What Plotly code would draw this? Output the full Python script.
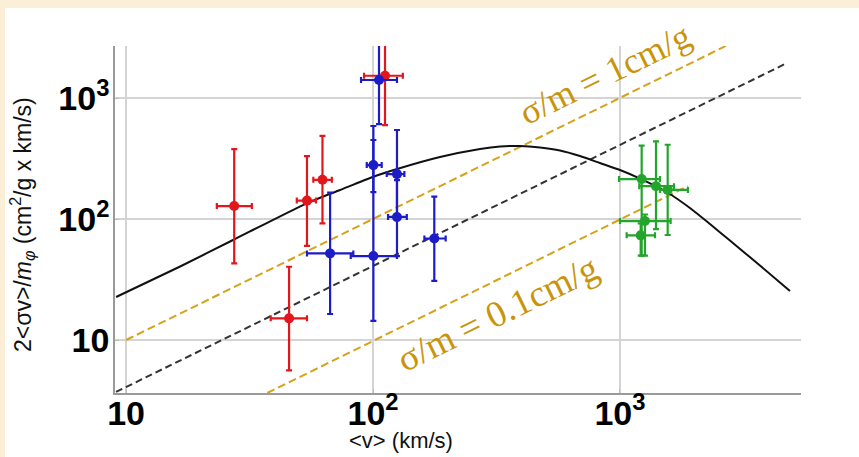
import plotly.graph_objects as go

# ---------------- data ----------------
# red points
red_v = [27.4, 54.0, 62.4, 45.7, 111.8]
red_v_lo = [23.3, 49.1, 57.3, 38.5, 92.0]
red_v_hi = [32.3, 58.7, 68.1, 54.0, 132.0]
red_y = [128, 142, 211, 15.1, 1528]
red_y_lo = [43, 60, 92, 5.6, 598]
red_y_hi = [378, 331, 486, 40.3, 3000]

# blue points
blue_v = [67.0, 100.3, 100.3, 125.0, 125.0, 177.0, 105.7]
blue_v_lo = [54.0, 81.2, 94.3, 113.6, 115.0, 161.4, 89.4]
blue_v_hi = [83.2, 125.0, 108.4, 133.9, 137.0, 196.8, 125.0]
blue_y = [52, 49.4, 279, 235, 104, 69, 1409]
blue_y_lo = [16.4, 14.4, 167, 98, 49.4, 30.8, 609]
blue_y_hi = [165, 587, 450, 544, 210, 153, 3000]

# green points
green_v = [1224, 1399, 1560, 1262, 1213]
green_v_lo = [991, 1197, 1452, 1000, 1064]
green_v_hi = [1452, 1655, 1884, 1603, 1386]
green_y = [214, 187, 174, 96.2, 73.3]
green_y_lo = [49.8, 82.6, 73.8, 49.8, 49.8]
green_y_hi = [404, 438, 411, 109, 92]

# model curve (solid black)
curve_v = [9.11, 16.55, 27.36, 53.9, 73.5, 100.3, 125.1, 186.7, 271.2, 326.8, 393.7,
           474.4, 571.6, 688.8, 829.9, 1000, 1224, 1545, 1920, 2314, 2788, 3688, 4878]
curve_y = [22.67, 40.5, 67.7, 134.8, 173.7, 223.7, 259, 325.4, 378.8, 397.3, 401.1,
           389.8, 368.3, 331.6, 290.3, 254.1, 212.9, 167.2, 123.3, 90.9, 66.4, 41.3, 25.4]

# constant sigma/m lines (end points)
gold_hi_v = [10, 2790]
gold_hi_y = [10, 2800]
black_dash_v = [9.1, 4742]
black_dash_y = [3.72, 1945]
gold_lo_v = [37.3, 1884]
gold_lo_y = [3.65, 187]

tick_vals = [10, 100, 1000]
tick_text = ["10", "10<sup>2</sup>", "10<sup>3</sup>"]

# ---------------- figure ----------------
RED = "#E3161C"
BLUE = "#1C1CC8"
GREEN = "#22A52A"
GOLD = "#D6A21A"
GOLD_TXT = "#C9940B"

fig = go.Figure()

fig.add_trace(go.Scatter(x=gold_hi_v, y=gold_hi_y, mode="lines",
                         line=dict(color=GOLD, width=2, dash="8px,4px"), hoverinfo="skip"))
fig.add_trace(go.Scatter(x=black_dash_v, y=black_dash_y, mode="lines",
                         line=dict(color="#333333", width=2, dash="7px,4px"), hoverinfo="skip"))
fig.add_trace(go.Scatter(x=gold_lo_v, y=gold_lo_y, mode="lines",
                         line=dict(color=GOLD, width=2, dash="8px,4px"), hoverinfo="skip"))
fig.add_trace(go.Scatter(x=curve_v, y=curve_y, mode="lines",
                         line=dict(color="#111111", width=2, shape="spline", smoothing=0.6),
                         hoverinfo="skip"))


def add_pts(v, vlo, vhi, y, ylo, yhi, color):
    fig.add_trace(go.Scatter(
        x=v, y=y, mode="markers",
        marker=dict(color=color, size=10),
        error_x=dict(type="data", symmetric=False,
                     array=[h - c for h, c in zip(vhi, v)],
                     arrayminus=[c - l for l, c in zip(vlo, v)],
                     color=color, thickness=2.2, width=3),
        error_y=dict(type="data", symmetric=False,
                     array=[h - c for h, c in zip(yhi, y)],
                     arrayminus=[c - l for l, c in zip(ylo, y)],
                     color=color, thickness=2.2, width=3),
    ))


add_pts(red_v, red_v_lo, red_v_hi, red_y, red_y_lo, red_y_hi, RED)
add_pts(blue_v, blue_v_lo, blue_v_hi, blue_y, blue_y_lo, blue_y_hi, BLUE)
add_pts(green_v, green_v_lo, green_v_hi, green_y, green_y_lo, green_y_hi, GREEN)

axis_common = dict(
    type="log", tickvals=tick_vals, ticktext=tick_text,
    tickfont=dict(family="Liberation Sans", size=34, color="#000000", weight="bold"),
    showgrid=True, gridcolor="#D4D4D4", gridwidth=1.5,
    showline=True, linecolor="#9A9A9A", linewidth=1.5,
    ticks="inside", ticklen=4, tickcolor="#BBBBBB",
    zeroline=False, automargin=False,
)

fig.update_xaxes(range=[0.955, 3.733], ticklabelstandoff=-11, **axis_common)
fig.update_yaxes(range=[0.562, 3.43], ticklabelstandoff=-3, **axis_common)

W, H = 859, 457
L, R, T, B = 115, 58, 46, 64
pw, ph = W - L - R, H - T - B


def px(x):
    return (x - L) / pw


def py(y):
    return (H - B - y) / ph


fig.update_layout(
    width=W, height=H,
    margin=dict(l=L, r=R, t=T, b=B),
    paper_bgcolor="white", plot_bgcolor="white",
    showlegend=False,
    font=dict(family="Liberation Sans", color="#000000"),
    shapes=[
        dict(type="rect", xref="paper", yref="paper", x0=px(0), x1=px(W), y0=py(8), y1=py(0),
             fillcolor="#FBEFD7", line=dict(width=0), layer="below"),
        dict(type="rect", xref="paper", yref="paper", x0=px(0), x1=px(5), y0=py(H), y1=py(0),
             fillcolor="#FBEFD7", line=dict(width=0), layer="below"),
    ],
    annotations=[
        dict(text="2&lt;σv&gt;/<i>m</i><sub><i>φ</i></sub> (cm<sup>2</sup>/g x km/s)",
             xref="paper", yref="paper", x=px(22), y=py(225), textangle=-90,
             showarrow=False, xanchor="center", yanchor="middle",
             font=dict(family="Liberation Sans", size=23, color="#111111")),
        dict(text="&lt;v&gt; (km/s)", xref="paper", yref="paper", x=px(401), y=py(440),
             showarrow=False, xanchor="center", yanchor="middle",
             font=dict(family="Liberation Sans", size=22, color="#111111")),
        dict(text="σ/m = 1cm/g", xref="paper", yref="paper", x=px(605), y=py(74),
             showarrow=False, xanchor="center", yanchor="middle", textangle=-26,
             font=dict(family="Liberation Serif", size=36, color=GOLD_TXT)),
        dict(text="σ/m = 0.1cm/g", xref="paper", yref="paper", x=px(497), y=py(313),
             showarrow=False, xanchor="center", yanchor="middle", textangle=-26,
             font=dict(family="Liberation Serif", size=37, color=GOLD_TXT)),
    ],
)

fig.write_html("out.html", config={"displayModeBar": False},
               post_script="document.body.style.margin='0';")
